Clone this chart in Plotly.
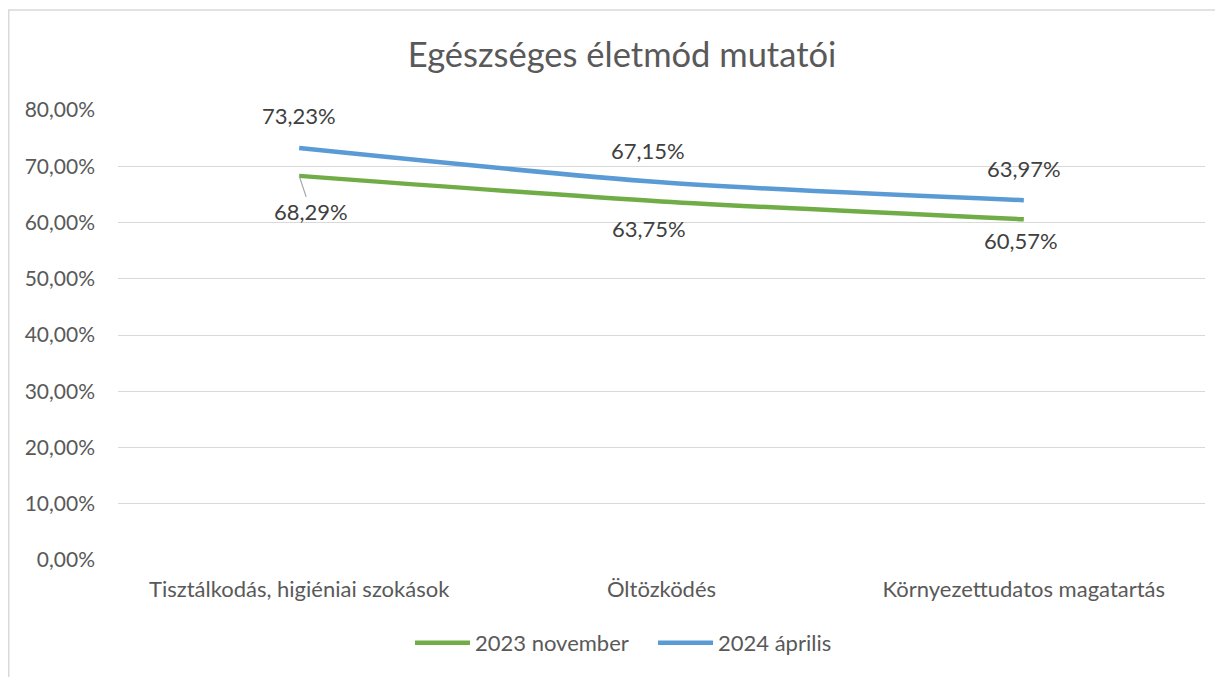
import plotly.graph_objects as go

categories = ["Tisztálkodás, higiéniai szokások", "Öltözködés", "Környezettudatos magatartás"]
nov_2023 = [0.6829, 0.6375, 0.6057]
apr_2024 = [0.7323, 0.6715, 0.6397]
series_names = ["2023 november", "2024 április"]
y_ticks = [0, 0.1, 0.2, 0.3, 0.4, 0.5, 0.6, 0.7, 0.8]

GREEN = "#70AD47"
BLUE = "#5B9BD5"
FONT = "Lato"
FS = 22

W, H = 1223, 677
ML, MR, MT, MB = 110, 26, 102, 125
PW = W - ML - MR
PH = H - MT - MB


def hu_pct(v):
    return f"{v*100:.2f}%".replace(".", ",")


fig = go.Figure()
fig.add_trace(go.Scatter(x=categories, y=nov_2023, name=series_names[0], mode="lines",
                         line=dict(color=GREEN, width=4.5, shape="spline", smoothing=0.8),
                         hoverinfo="skip"))
fig.add_trace(go.Scatter(x=categories, y=apr_2024, name=series_names[1], mode="lines",
                         line=dict(color=BLUE, width=4.5, shape="spline", smoothing=0.8),
                         hoverinfo="skip"))

# data labels (blue above, green below)
blue_shift = [(0, 33), (-14, 32), (0, 32)]
green_shift = [(12, -36), (-13, -27), (-3, -21)]
for i, c in enumerate(categories):
    fig.add_annotation(x=c, y=apr_2024[i], text=hu_pct(apr_2024[i]), showarrow=False,
                       xshift=blue_shift[i][0], yshift=blue_shift[i][1],
                       font=dict(family=FONT, size=FS, color="#404040"))
    if i == 0:
        fig.add_annotation(x=c, y=nov_2023[i], text=hu_pct(nov_2023[i]), showarrow=True,
                           ax=green_shift[i][0], ay=-green_shift[i][1], arrowhead=0,
                           arrowwidth=1.2, arrowcolor="#A6A6A6",
                           standoff=0, startstandoff=0,
                           font=dict(family=FONT, size=FS, color="#404040"))
    else:
        fig.add_annotation(x=c, y=nov_2023[i], text=hu_pct(nov_2023[i]), showarrow=False,
                           xshift=green_shift[i][0], yshift=green_shift[i][1],
                           font=dict(family=FONT, size=FS, color="#404040"))

# outer chart border
fig.add_shape(type="rect", xref="paper", yref="paper",
              x0=(0.75 - ML) / PW, x1=(W + 20 - ML) / PW,
              y0=(PH - (H + 20 - MT)) / PH, y1=(PH - (2 - MT)) / PH,
              line=dict(color="#D9D9D9", width=1.5), fillcolor="rgba(0,0,0,0)", layer="below")

fig.update_layout(
    width=W, height=H,
    margin=dict(l=ML, r=MR, t=MT, b=MB),
    paper_bgcolor="white", plot_bgcolor="white",
    title=dict(text="Egészséges életmód mutatói", x=(614 - 0) / W, xanchor="center",
               y=1 - 47 / H, yanchor="middle",
               font=dict(family=FONT, size=34.5, color="#595959")),
    font=dict(family=FONT, color="#595959"),
    showlegend=True,
    legend=dict(orientation="h", x=(402 - ML) / PW, xanchor="left",
                y=-(635 - (MT + PH)) / PH, yanchor="middle",
                font=dict(family=FONT, size=FS, color="#595959"),
                itemwidth=55, tracegroupgap=0, traceorder="normal",
                entrywidth=173, entrywidthmode="pixels"),
    xaxis=dict(range=[-0.5, 2.5], showgrid=False, zeroline=False, showline=False,
               ticks="", tickfont=dict(family=FONT, size=FS, color="#595959"),
               ticklabelstandoff=14, fixedrange=True),
    yaxis=dict(range=[0, 0.8], tickvals=y_ticks, ticktext=[hu_pct(v) for v in y_ticks],
               showgrid=True, gridcolor="#D9D9D9", gridwidth=1.3, zeroline=False,
               showline=False, ticks="", ticklabelstandoff=22,
               tickfont=dict(family=FONT, size=21, color="#595959"), fixedrange=True),
)

fig.write_html("out.html")
